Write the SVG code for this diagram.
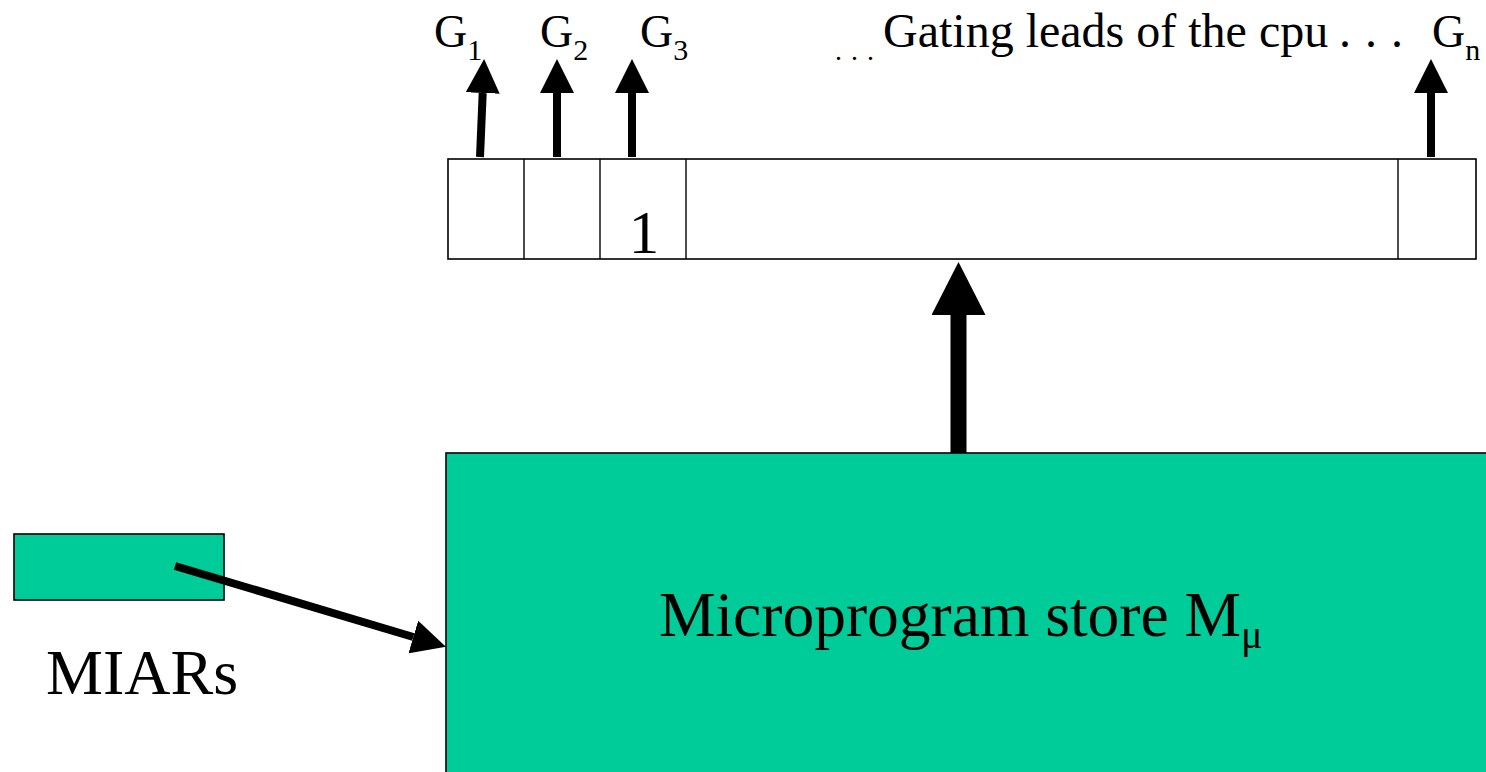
<svg xmlns="http://www.w3.org/2000/svg" width="1486" height="772" viewBox="0 0 1486 772">
  <style>
    .t { font-family: "Liberation Serif", "Times New Roman", serif; fill: #000; }
    .box { stroke: #000; stroke-width: 1.6; }
    .store { fill: #00CC99; }
    .reg { fill: #fff; }
    .div { stroke: #000; stroke-width: 1.4; }
    .lead { stroke: #000; stroke-width: 8; fill: none; }
    .bus { stroke: #000; stroke-width: 16; fill: none; }
  </style>
  <defs>
    <marker id="head" markerUnits="userSpaceOnUse" markerWidth="34" markerHeight="34" viewBox="0 0 33 33" refX="0" refY="16.5" orient="auto">
      <path d="M0,0 L33,16.5 L0,33 Z" fill="#000"/>
    </marker>
    <marker id="bigHead" markerUnits="userSpaceOnUse" markerWidth="54" markerHeight="54" viewBox="0 0 53 54" refX="0" refY="27" orient="auto">
      <path d="M0,0 L53,27 L0,54 Z" fill="#000"/>
    </marker>
  </defs>

  <!-- microinstruction register with gating fields -->
  <g id="register">
    <rect class="box reg" x="448" y="159" width="1028" height="100"/>
    <line class="div" x1="524" y1="159" x2="524" y2="259"/>
    <line class="div" x1="600" y1="159" x2="600" y2="259"/>
    <line class="div" x1="686" y1="159" x2="686" y2="259"/>
    <line class="div" x1="1398" y1="159" x2="1398" y2="259"/>
    <text class="t" x="644" y="253" font-size="61" text-anchor="middle">1</text>
  </g>

  <!-- microprogram store -->
  <g id="store">
    <rect class="box store" x="446" y="453" width="1050" height="330"/>
    <text class="t" x="659" y="636" font-size="63.5">Microprogram store M<tspan font-size="40" dy="12">μ</tspan></text>
  </g>

  <!-- microinstruction address registers -->
  <g id="miars">
    <rect class="box store" x="14" y="534" width="210" height="66"/>
    <text class="t" x="46" y="694" font-size="64">MIARs</text>
  </g>

  <!-- gate lead labels -->
  <g id="labels">
    <text class="t" x="434" y="47" font-size="46">G<tspan font-size="30" dy="13">1</tspan></text>
    <text class="t" x="540" y="47" font-size="46">G<tspan font-size="30" dy="13">2</tspan></text>
    <text class="t" x="640" y="47" font-size="46">G<tspan font-size="30" dy="13">3</tspan></text>
    <text class="t" y="60" font-size="28"><tspan x="835">.</tspan><tspan x="851">.</tspan><tspan x="867">.</tspan></text>
    <text class="t" x="883" y="47" font-size="48">Gating leads of the cpu<tspan x="1339">.</tspan><tspan x="1365">.</tspan><tspan x="1391">.</tspan></text>
    <text class="t" x="1432" y="47" font-size="46">G<tspan font-size="30" dy="13">n</tspan></text>
  </g>

  <!-- connectors -->
  <g id="connectors">
    <line class="lead" x1="480" y1="157" x2="482.7" y2="93" marker-end="url(#head)"/>
    <line class="lead" x1="557" y1="157" x2="557" y2="93" marker-end="url(#head)"/>
    <line class="lead" x1="632" y1="157" x2="632" y2="93" marker-end="url(#head)"/>
    <line class="lead" x1="1431" y1="157" x2="1431" y2="93" marker-end="url(#head)"/>
    <line class="bus" x1="958.5" y1="453" x2="958.5" y2="315" marker-end="url(#bigHead)"/>
    <line class="lead" x1="175" y1="566" x2="413.3" y2="637" marker-end="url(#head)"/>
  </g>
</svg>
